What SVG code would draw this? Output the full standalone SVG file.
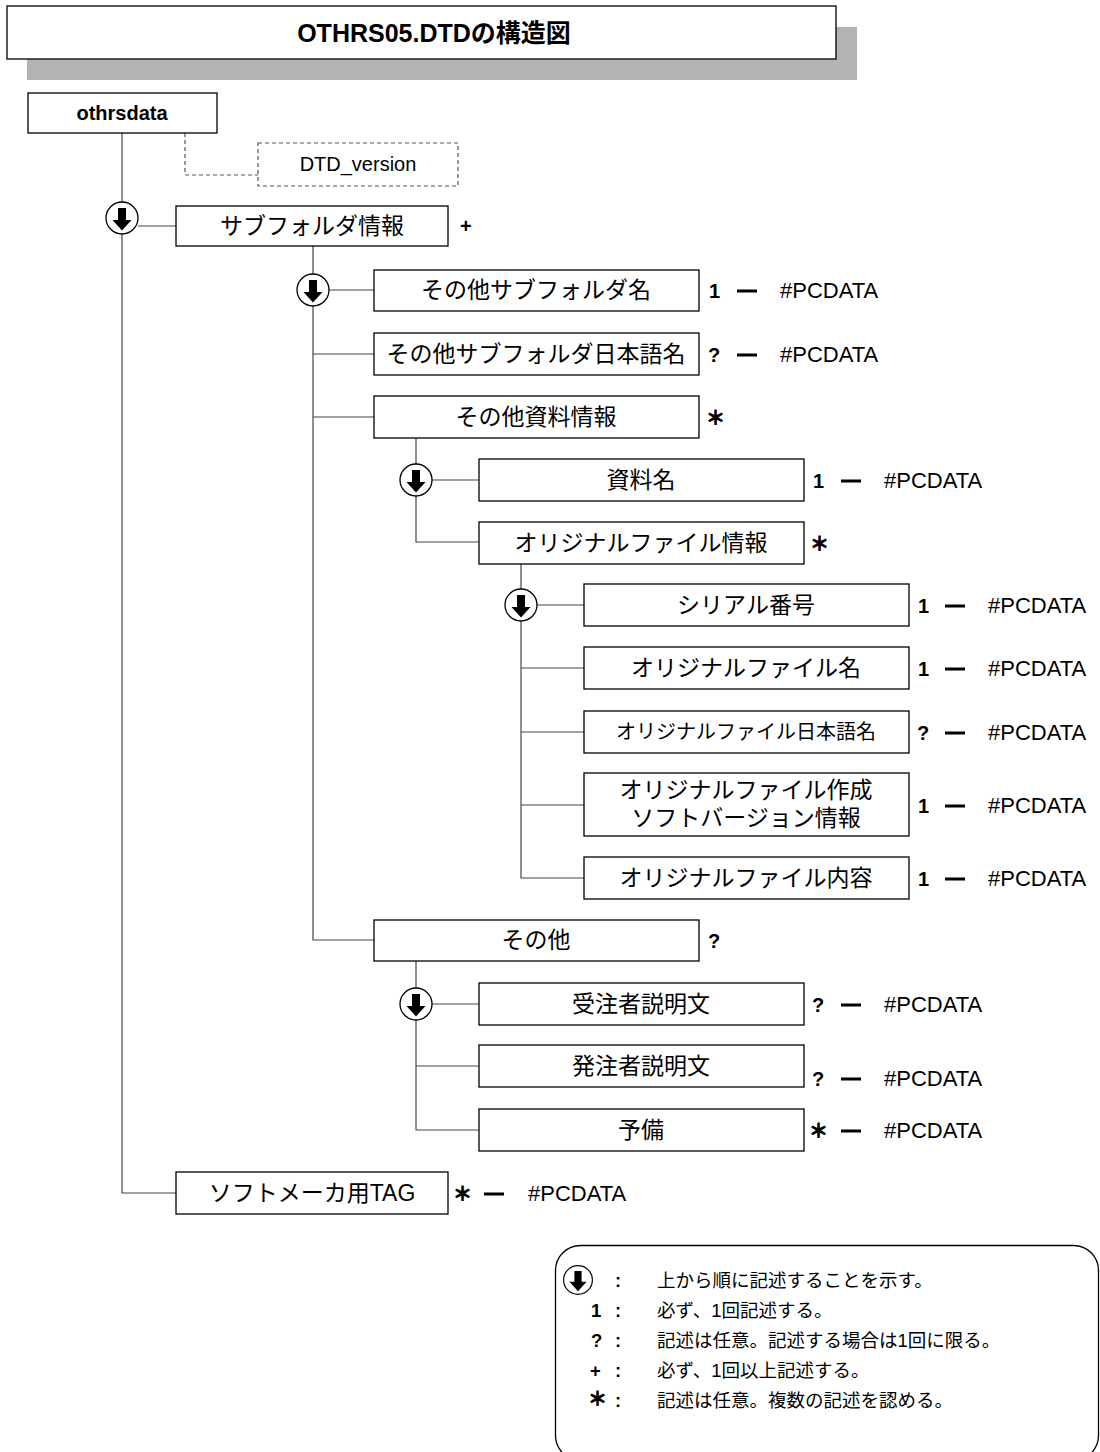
<svg xmlns="http://www.w3.org/2000/svg" width="1100" height="1452" viewBox="0 0 1100 1452">
<style>
text{font-family:"Liberation Sans","Noto Sans CJK JP",sans-serif;fill:#000}
.box{fill:#fff;stroke:#000;stroke-width:1.3}
.lbl{font-size:23px;text-anchor:middle}
.ind{font-size:20px;font-weight:bold}
.ast{font-family:"Noto Sans CJK JP",sans-serif;font-size:19px;font-weight:bold;stroke:#000;stroke-width:0.9}
.pc{font-size:22px}
.con{fill:none;stroke:#444;stroke-width:1.2}
.dash{fill:none;stroke:#555;stroke-width:1.2;stroke-dasharray:4 3}
.lg{font-size:18.5px}
</style>
<defs>
<g id="seq">
<circle r="16" fill="#fff" stroke="#000" stroke-width="1.3"/>
<rect x="-4" y="-10" width="8" height="12.5" fill="#000"/>
<polygon points="-9.5,2 9.5,2 0,12.5" fill="#000"/>
</g>
<g id="dashmark"><rect x="0" y="-1.5" width="20" height="3" fill="#000"/></g>
</defs>

<g id="title">
<rect x="27" y="27" width="830" height="53" fill="#b3b3b3"/>
<rect x="7" y="6" width="829" height="53" class="box"/>
<text x="434" y="42" font-size="25" font-weight="bold" text-anchor="middle">OTHRS05.DTDの構造図</text>
</g>

<g id="connectors">
<path class="con" d="M122,133 V1193 H176"/>
<path class="dash" d="M185,133 V175 H258"/>
<path class="con" d="M138,226 H176"/>
<path class="con" d="M313,246 V940 H374"/>
<path class="con" d="M329,290 H374"/>
<path class="con" d="M313,354 H374"/>
<path class="con" d="M313,417 H374"/>
<path class="con" d="M416,438 V542 H479"/>
<path class="con" d="M432,480 H479"/>
<path class="con" d="M521,564 V878 H584"/>
<path class="con" d="M537,605 H584"/>
<path class="con" d="M521,668 H584"/>
<path class="con" d="M521,732 H584"/>
<path class="con" d="M521,805 H584"/>
<path class="con" d="M416,960 V1130 H479"/>
<path class="con" d="M432,1004 H479"/>
<path class="con" d="M416,1066 H479"/>
<use href="#seq" x="122" y="218"/>
<use href="#seq" x="313" y="290"/>
<use href="#seq" x="416" y="480"/>
<use href="#seq" x="521" y="605"/>
<use href="#seq" x="416" y="1004"/>
</g>

<g id="othrsdata">
<rect x="28" y="93" width="189" height="40" class="box"/>
<text x="122" y="120" font-size="20" font-weight="bold" text-anchor="middle">othrsdata</text>
</g>

<g id="dtd_version">
<rect x="258" y="143" width="200" height="43" fill="#fff" stroke="#555" stroke-width="1.2" stroke-dasharray="4 3"/>
<text x="358" y="171" font-size="20" text-anchor="middle">DTD_version</text>
</g>

<g id="subfolder">
<rect x="176" y="206" width="272" height="40" class="box"/>
<text x="312" y="234" class="lbl">サブフォルダ情報</text>
<text x="460" y="233" class="ind">+</text>
</g>

<g id="sub_name">
<rect x="374" y="270" width="325" height="41" class="box"/>
<text x="536" y="298" class="lbl">その他サブフォルダ名</text>
<text x="709" y="298" class="ind">1</text>
<use href="#dashmark" x="737" y="291"/>
<text x="780" y="298" class="pc">#PCDATA</text>
</g>

<g id="sub_jname">
<rect x="374" y="333" width="325" height="42" class="box"/>
<text x="536" y="362" class="lbl">その他サブフォルダ日本語名</text>
<text x="708" y="362" class="ind">?</text>
<use href="#dashmark" x="737" y="355"/>
<text x="780" y="362" class="pc">#PCDATA</text>
</g>

<g id="doc_info">
<rect x="374" y="396" width="325" height="42" class="box"/>
<text x="536" y="425" class="lbl">その他資料情報</text>
<text x="706" y="425" class="ast">＊</text>
</g>

<g id="doc_name">
<rect x="479" y="459" width="325" height="42" class="box"/>
<text x="641" y="488" class="lbl">資料名</text>
<text x="813" y="488" class="ind">1</text>
<use href="#dashmark" x="841" y="481"/>
<text x="884" y="488" class="pc">#PCDATA</text>
</g>

<g id="orig_info">
<rect x="479" y="522" width="325" height="42" class="box"/>
<text x="641" y="551" class="lbl">オリジナルファイル情報</text>
<text x="810" y="551" class="ast">＊</text>
</g>

<g id="serial">
<rect x="584" y="584" width="325" height="42" class="box"/>
<text x="746" y="613" class="lbl">シリアル番号</text>
<text x="918" y="613" class="ind">1</text>
<use href="#dashmark" x="945" y="606"/>
<text x="988" y="613" class="pc">#PCDATA</text>
</g>

<g id="orig_name">
<rect x="584" y="647" width="325" height="42" class="box"/>
<text x="746" y="676" class="lbl">オリジナルファイル名</text>
<text x="918" y="676" class="ind">1</text>
<use href="#dashmark" x="945" y="669"/>
<text x="988" y="676" class="pc">#PCDATA</text>
</g>

<g id="orig_jname">
<rect x="584" y="711" width="325" height="42" class="box"/>
<text x="746" y="739" font-size="20" text-anchor="middle">オリジナルファイル日本語名</text>
<text x="917" y="740" class="ind">?</text>
<use href="#dashmark" x="945" y="733"/>
<text x="988" y="740" class="pc">#PCDATA</text>
</g>

<g id="orig_soft">
<rect x="584" y="773" width="325" height="63" class="box"/>
<text x="746" y="798" class="lbl">オリジナルファイル作成</text>
<text x="746" y="826" class="lbl">ソフトバージョン情報</text>
<text x="918" y="813" class="ind">1</text>
<use href="#dashmark" x="945" y="806"/>
<text x="988" y="813" class="pc">#PCDATA</text>
</g>

<g id="orig_content">
<rect x="584" y="857" width="325" height="42" class="box"/>
<text x="746" y="886" class="lbl">オリジナルファイル内容</text>
<text x="918" y="886" class="ind">1</text>
<use href="#dashmark" x="945" y="879"/>
<text x="988" y="886" class="pc">#PCDATA</text>
</g>

<g id="other">
<rect x="374" y="920" width="325" height="41" class="box"/>
<text x="536" y="948" class="lbl">その他</text>
<text x="708" y="948" class="ind">?</text>
</g>

<g id="contractor">
<rect x="479" y="983" width="325" height="42" class="box"/>
<text x="641" y="1012" class="lbl">受注者説明文</text>
<text x="812" y="1012" class="ind">?</text>
<use href="#dashmark" x="841" y="1005"/>
<text x="884" y="1012" class="pc">#PCDATA</text>
</g>

<g id="orderer">
<rect x="479" y="1045" width="325" height="42" class="box"/>
<text x="641" y="1074" class="lbl">発注者説明文</text>
<text x="812" y="1086" class="ind">?</text>
<use href="#dashmark" x="841" y="1079"/>
<text x="884" y="1086" class="pc">#PCDATA</text>
</g>

<g id="reserve">
<rect x="479" y="1109" width="325" height="42" class="box"/>
<text x="641" y="1138" class="lbl">予備</text>
<text x="809" y="1138" class="ast">＊</text>
<use href="#dashmark" x="841" y="1131"/>
<text x="884" y="1138" class="pc">#PCDATA</text>
</g>

<g id="softtag">
<rect x="176" y="1172" width="272" height="42" class="box"/>
<text x="312" y="1201" class="lbl">ソフトメーカ用TAG</text>
<text x="453" y="1201" class="ast">＊</text>
<use href="#dashmark" x="484" y="1194"/>
<text x="528" y="1201" class="pc">#PCDATA</text>
</g>

<g id="legend">
<rect x="555.5" y="1245.5" width="543" height="215" rx="25" fill="#fff" stroke="#000" stroke-width="1.3"/>
<use href="#seq" x="578" y="1280" transform="translate(578,1280) scale(0.9) translate(-578,-1280)"/>
<text x="615" y="1287" class="lg" font-weight="bold">:</text>
<text x="657" y="1287" class="lg">上から順に記述することを示す。</text>
<text x="591" y="1317" class="lg" font-weight="bold">1</text>
<text x="615" y="1317" class="lg" font-weight="bold">:</text>
<text x="657" y="1317" class="lg">必ず、1回記述する。</text>
<text x="591" y="1347" class="lg" font-weight="bold">?</text>
<text x="615" y="1347" class="lg" font-weight="bold">:</text>
<text x="657" y="1347" class="lg">記述は任意。記述する場合は1回に限る。</text>
<text x="590" y="1377" class="lg" font-weight="bold">+</text>
<text x="615" y="1377" class="lg" font-weight="bold">:</text>
<text x="657" y="1377" class="lg">必ず、1回以上記述する。</text>
<text x="588" y="1406" class="ast" font-size="16">＊</text>
<text x="615" y="1407" class="lg" font-weight="bold">:</text>
<text x="657" y="1407" class="lg">記述は任意。複数の記述を認める。</text>
</g>
</svg>
